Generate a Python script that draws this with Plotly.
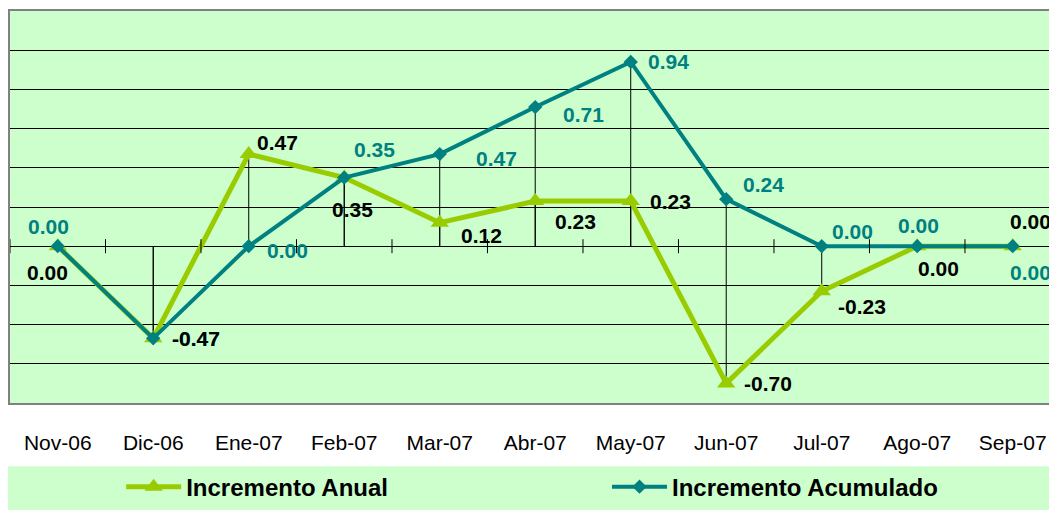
import plotly.graph_objects as go

# categories and series values
meses = ["Nov-06", "Dic-06", "Ene-07", "Feb-07", "Mar-07", "Abr-07",
         "May-07", "Jun-07", "Jul-07", "Ago-07", "Sep-07"]
incremento_anual = [0.00, -0.47, 0.47, 0.35, 0.12, 0.23, 0.23, -0.70, -0.23, 0.00, 0.00]
incremento_acumulado = [0.00, -0.47, 0.00, 0.35, 0.47, 0.71, 0.94, 0.24, 0.00, 0.00, 0.00]

# label nudges in pixels (dx, dy) -- dy positive = downwards
off_anual = [(-10, 26), (43, 0), (29, -12), (8, 32), (42, 13), (40, 20),
             (40, 0), (42, 0), (40, 15), (21, 22), (18, -25)]
off_acum = [(-9, -20), (43, 0), (39, 4), (30, -28), (57, 4), (48, 7),
            (38, 0), (37, -15), (31, -15), (1, -21), (18, 26)]

VERDE = "#99CC00"
TEAL = "#008080"
FONT = "Liberation Sans, Arial, sans-serif"

fig = go.Figure()

# drop lines from each point to the zero axis
dx, dy = [], []
for serie in (incremento_anual, incremento_acumulado):
    for m, v in zip(meses, serie):
        dx += [m, m, None]
        dy += [0, v, None]
fig.add_trace(go.Scatter(x=dx, y=dy, mode="lines", line=dict(color="black", width=1),
                         showlegend=False, hoverinfo="skip"))

fig.add_trace(go.Scatter(
    x=meses, y=incremento_anual, name="Incremento Anual", mode="lines+markers",
    line=dict(color=VERDE, width=5),
    marker=dict(symbol="triangle-up", size=16, color=VERDE),
    legend="legend",
))
fig.add_trace(go.Scatter(
    x=meses, y=incremento_acumulado, name="Incremento Acumulado", mode="lines+markers",
    line=dict(color=TEAL, width=4),
    marker=dict(symbol="diamond", size=11, color=TEAL),
    legend="legend2",
))

# data labels: teal first so black sits on top where they overlap
for serie, offs, col in ((incremento_acumulado, off_acum, TEAL),
                         (incremento_anual, off_anual, "black")):
    for m, v, (ox, oy) in zip(meses, serie, offs):
        fig.add_annotation(x=m, y=v, text=f"{v:.2f}", showarrow=False,
                           xshift=ox, yshift=-oy,
                           font=dict(family=FONT, size=21, color=col, weight="bold"))

# small tick marks on the zero axis between categories
for i in range(len(meses) + 1):
    fig.add_shape(type="line", xref="x", yref="y", x0=i - 0.5, x1=i - 0.5,
                  ysizemode="pixel", yanchor=0, y0=-7, y1=7,
                  line=dict(color="black", width=1))

# legend band (paper coords: plot height 396 px)
fig.add_shape(type="rect", xref="paper", yref="paper", x0=-0.002, x1=1.01,
              y0=-0.1616, y1=-0.28, fillcolor="#CCFFCC", line=dict(width=0), layer="below")

leg = dict(orientation="h", xanchor="left", y=-0.2146, yanchor="middle", itemwidth=55,
           bgcolor="rgba(0,0,0,0)", font=dict(family=FONT, size=24, weight="bold"))

fig.update_layout(
    width=1049, height=510,
    margin=dict(l=10, r=0, t=11, b=103),
    paper_bgcolor="white",
    plot_bgcolor="#CCFFCC",
    font=dict(family=FONT, color="black"),
    showlegend=True,
    legend=dict(leg, x=0.107),
    legend2=dict(leg, x=0.5746),
    xaxis=dict(type="category", range=[-0.5, 10.38], showgrid=False, zeroline=False,
               showline=True, mirror=True, linecolor="#808080", linewidth=2,
               ticks="outside", ticklen=20, tickcolor="rgba(0,0,0,0)",
               tickfont=dict(size=21)),
    yaxis=dict(range=[-0.8, 1.2], dtick=0.2, showgrid=True, gridcolor="black", gridwidth=1,
               zeroline=True, zerolinecolor="black", zerolinewidth=1,
               showline=True, linecolor="#808080", linewidth=2, showticklabels=False),
)

# drop the default 8px body margin so the figure sits at the window's corner
fig.write_html("out.html", config={"displayModeBar": False},
               post_script="document.body.style.margin='0';document.body.style.overflow='hidden';")
